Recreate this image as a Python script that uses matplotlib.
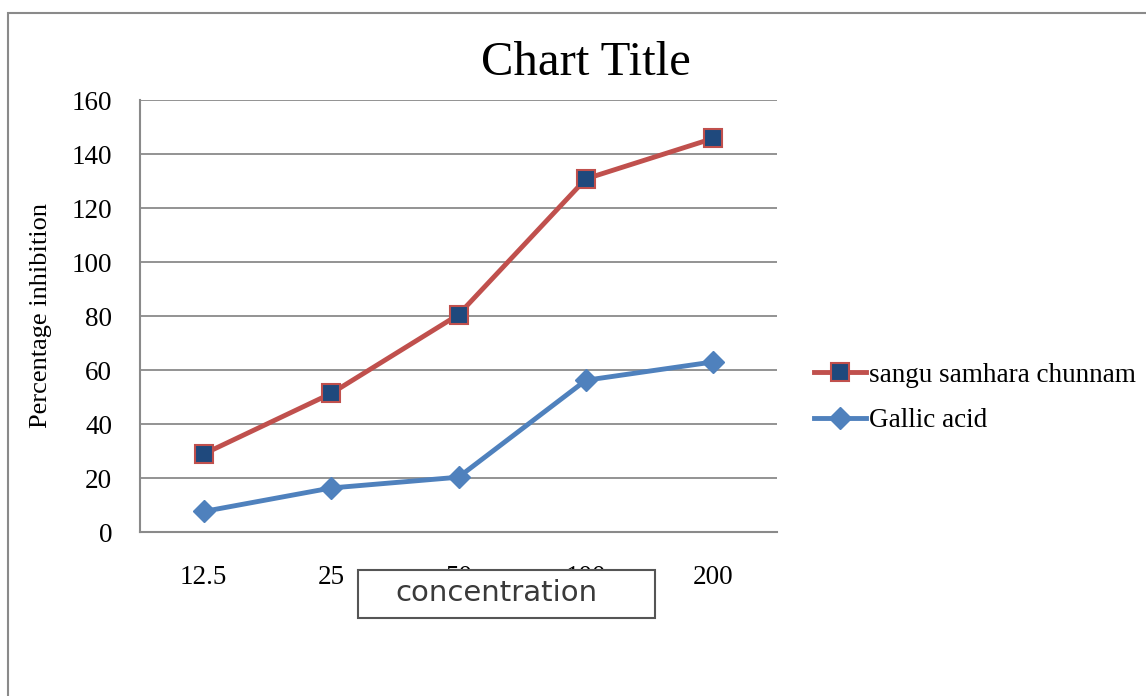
import matplotlib
matplotlib.use("Agg")
import matplotlib.pyplot as plt
from matplotlib.patches import Rectangle

categories = ["12.5", "25", "50", "100", "200"]
sangu = [28.9, 51.3, 80.5, 130.8, 145.8]
gallic = [7.6, 16.3, 20.3, 56.2, 63.0]
yticks = [0, 20, 40, 60, 80, 100, 120, 140, 160]

W, H = 1146, 696
fig = plt.figure(figsize=(W / 100, H / 100), dpi=100)
serif = "Liberation Serif"

# outer chart border
fig.patches.append(Rectangle((8 / W, -0.1), 1.2, 1 - 13 / H + 0.1, transform=fig.transFigure,
                             fill=False, edgecolor="#8a8a8a", linewidth=1.5))

ax = fig.add_axes([140 / W, 1 - 532 / H, (777 - 140) / W, (532 - 100) / H])
x = list(range(len(categories)))
ax.plot(x, sangu, color="#C0504D", linewidth=3.5, marker="s", markersize=13,
        markerfacecolor="#1F497D", markeredgecolor="#C0504D", markeredgewidth=1.5,
        label="sangu samhara chunnam", zorder=3)
ax.plot(x, gallic, color="#4F81BD", linewidth=3.5, marker="D", markersize=11,
        markerfacecolor="#4F81BD", markeredgecolor="#4F81BD",
        label="Gallic acid", zorder=3)

ax.set_xlim(-0.5, len(categories) - 0.5)
ax.set_ylim(0, 160)
ax.set_yticks(yticks)
ax.set_xticks(x)
ax.set_xticklabels(categories, fontfamily=serif, fontsize=19.5)
ax.set_yticklabels([str(v) for v in yticks], fontfamily=serif, fontsize=19.5)
ax.tick_params(axis="y", length=0, pad=20)
ax.tick_params(axis="x", length=0, pad=24)
ax.grid(axis="y", color="#8a8a8a", linewidth=1.3)
ax.set_axisbelow(True)
for s in ["top", "right"]:
    ax.spines[s].set_visible(False)
for s in ["left", "bottom"]:
    ax.spines[s].set_color("#8a8a8a")
    ax.spines[s].set_linewidth(1.5)

ax.set_ylabel("Percentage inhibition", fontfamily=serif, fontsize=19, labelpad=14)
fig.text(586 / W, 1 - 63 / H, "Chart Title", fontfamily=serif, fontsize=35,
         ha="center", va="center")

leg = ax.legend(loc="center left", bbox_to_anchor=(790 / W, 1 - 398 / H),
                bbox_transform=fig.transFigure, frameon=False,
                prop={"family": serif, "size": 19.5}, handlelength=1.9,
                handletextpad=0.1, labelspacing=0.75)

# "concentration" box overlapping tick labels
fig.patches.append(Rectangle((358 / W, 1 - 618 / H), (655 - 358) / W, 48 / H,
                             transform=fig.transFigure, facecolor="white",
                             edgecolor="#555555", linewidth=1.5, zorder=5))
fig.text(496 / W, 1 - 593 / H, "concentration", fontfamily="DejaVu Sans", fontsize=21,
         color="#3a3a3a", ha="center", va="center", zorder=6)

fig.savefig("out.png", dpi=100)
